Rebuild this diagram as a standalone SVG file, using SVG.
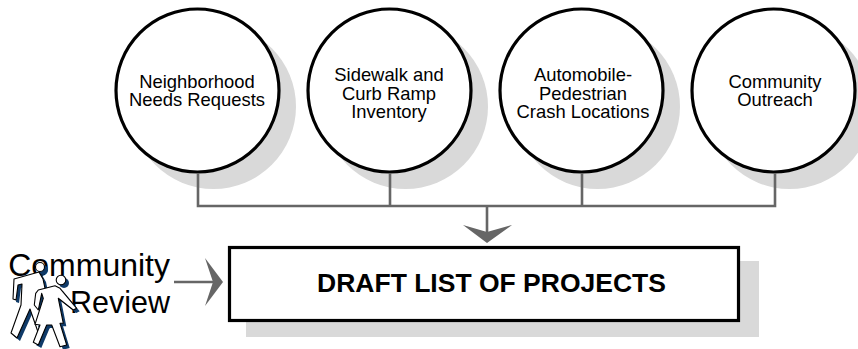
<svg xmlns="http://www.w3.org/2000/svg" width="858" height="349" viewBox="0 0 858 349">
<style>
.shadow{fill:#d9d9d9}
.circle{fill:#fff;stroke:#000;stroke-width:3.2}
.lbl{font-family:"Liberation Sans",Arial,sans-serif;font-size:18.400px;fill:#000;text-anchor:middle}
.conn{fill:none;stroke:#666;stroke-width:2.6}
.head{fill:#666}
.big{font-family:"Liberation Sans",Arial,sans-serif;font-size:32px;fill:#000;text-anchor:end}
.p{fill:#fff;stroke:#000;stroke-width:1.1;stroke-linejoin:round}
.ps{fill:#0f3a68}
</style>
<defs>
<path id="man" d="M14 279L39 272L43 279L46 293L42 305L47 325L38 332L30 309L17 338L11 333L21 305L22 284L18 285L16 300L13 299Z"/>
<path id="woman" d="M38.300 290L55 285.700L60 288.300L76.700 308.300L73.300 310L58.300 298.300L63.300 323.300H60L66.700 345L60 346.700L51.700 325H46.700L38.300 345L33.300 342.300L40 325L35 324.300L43.300 298.300L41.700 293.300L38.300 310L34.300 305L35.700 293.300Z"/>
</defs>
<rect width="858" height="349" fill="#fff"/>
<g id="n1"><circle class="shadow" cx="213.5" cy="106.5" r="82.5"/><circle class="circle" cx="197.5" cy="90.5" r="81.5"/><text class="lbl" x="197" y="88">Neighborhood</text><text class="lbl" x="197" y="106">Needs Requests</text></g>
<g id="n2"><circle class="shadow" cx="405.5" cy="106.5" r="82.5"/><circle class="circle" cx="389.5" cy="90.5" r="81.5"/><text class="lbl" x="389" y="81">Sidewalk and</text><text class="lbl" x="389" y="100">Curb Ramp</text><text class="lbl" x="389" y="118">Inventory</text></g>
<g id="n3"><circle class="shadow" cx="597.5" cy="106.5" r="82.5"/><circle class="circle" cx="581.5" cy="90.5" r="81.5"/><text class="lbl" x="583" y="81">Automobile-</text><text class="lbl" x="583" y="100">Pedestrian</text><text class="lbl" x="583" y="118">Crash Locations</text></g>
<g id="n4"><circle class="shadow" cx="789.5" cy="106.5" r="82.5"/><circle class="circle" cx="773.5" cy="90.5" r="81.5"/><text class="lbl" x="775" y="88">Community</text><text class="lbl" x="775" y="106">Outreach</text></g>
<g id="connectors">
<path class="conn" d="M198 173V206H775V173M390 173V206M582 173V206M487 206V236"/>
<path class="head" d="M463 225L487 232L512 225L487 243Z"/>
<path class="conn" d="M174 282H216"/>
<path class="head" d="M205 258L213 282L205 306L223 282Z"/>
</g>
<g id="n5"><rect class="shadow" x="246" y="261" width="513" height="76"/><rect x="229.500" y="247.500" width="509" height="73" fill="#fff" stroke="#000" stroke-width="3.2"/><text x="491.500" y="292" font-family="'Liberation Sans',Arial,sans-serif" font-size="26.500" font-weight="700" text-anchor="middle">DRAFT LIST OF PROJECTS</text></g>
<g id="n6"><text class="big" x="170" y="276">Community</text><text class="big" x="170" y="313" style="font-size:30.500px">Review</text>
<use href="#man" class="ps" x="3" y="3"/><circle class="ps" cx="43" cy="270" r="5"/><use href="#man" class="p"/><circle class="p" cx="40" cy="267" r="4.500"/>
<use href="#woman" class="ps" x="3" y="3"/><circle class="ps" cx="64" cy="283" r="5"/><use href="#woman" class="p"/><circle class="p" cx="61" cy="280" r="4.800"/>
</g>
</svg>
